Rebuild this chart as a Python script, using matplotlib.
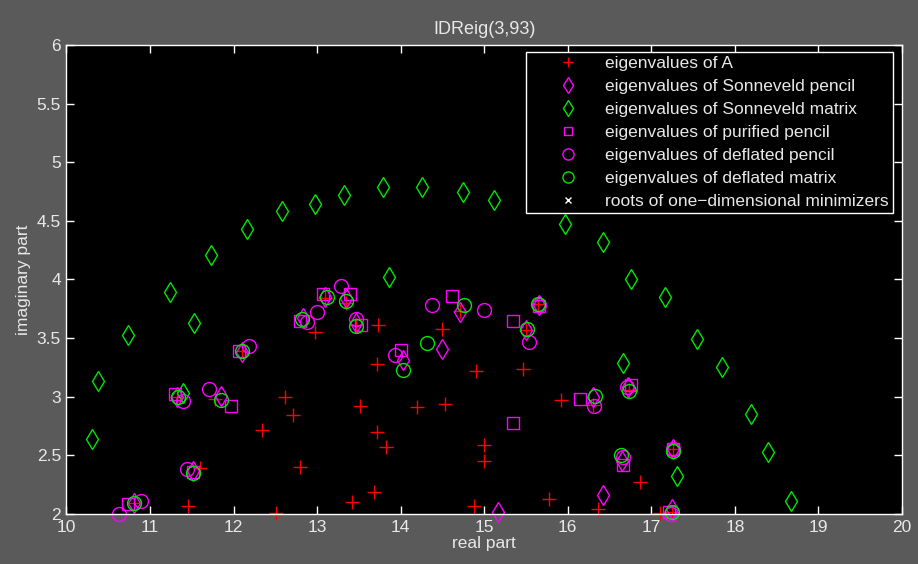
import matplotlib
matplotlib.use("Agg")
import matplotlib.pyplot as plt

plt.rcParams['font.family'] = ['Liberation Sans', 'DejaVu Sans']

# eigenvalues of A (red +)
a_re = [10.81, 11.32, 11.46, 11.60, 11.78, 12.10, 12.34, 12.51, 12.61, 12.71,
        12.79, 12.98, 13.10, 13.34, 13.42, 13.47, 13.51, 13.68, 13.72, 13.72,
        13.73, 13.83, 14.20, 14.49, 14.53, 14.71, 14.88, 14.90, 15.00, 15.00,
        15.46, 15.50, 15.64, 15.77, 15.92, 16.30, 16.36, 16.73, 16.87, 17.10,
        17.25, 17.26]
a_im = [2.09, 3.00, 2.07, 2.39, 2.98, 3.39, 2.72, 2.01, 3.00, 2.84,
        2.40, 3.55, 3.84, 3.80, 2.10, 3.61, 2.92, 2.19, 2.70, 3.28,
        3.61, 2.57, 2.91, 3.58, 2.94, 3.73, 2.07, 3.22, 2.59, 2.45,
        3.24, 3.57, 3.79, 2.13, 2.97, 2.93, 2.04, 3.06, 2.27, 2.01,
        2.02, 2.55]

# eigenvalues of Sonneveld pencil (magenta diamond)
sp_re = [10.81, 11.32, 11.52, 11.85, 12.10, 12.83, 13.10, 13.35, 13.47, 14.03,
         14.50, 14.71, 15.16, 15.50, 15.65, 16.30, 16.42, 16.65, 16.72, 17.26, 17.25]
sp_im = [2.09, 3.00, 2.37, 3.01, 3.38, 3.67, 3.85, 3.84, 3.63, 3.31,
         3.41, 3.72, 2.02, 3.57, 3.78, 3.00, 2.16, 2.45, 3.08, 2.55, 2.04]

# eigenvalues of Sonneveld matrix (green diamond)
sm_re = [10.30, 10.38, 10.74, 11.24, 11.40, 11.53, 11.73, 12.16, 12.58, 12.98,
         13.32, 13.79, 13.86, 14.26, 14.75, 15.12, 15.97, 16.42, 16.66, 16.76,
         17.16, 17.31, 17.55, 17.85, 18.19, 18.39, 18.67]
sm_im = [2.64, 3.13, 3.53, 3.89, 3.03, 3.63, 4.21, 4.43, 4.58, 4.64,
         4.72, 4.79, 4.02, 4.79, 4.75, 4.68, 4.47, 4.32, 3.29, 4.00,
         3.85, 2.32, 3.49, 3.25, 2.85, 2.53, 2.11]

# eigenvalues of purified pencil (magenta square)
pp_re = [10.74, 11.30, 11.52, 11.97, 12.06, 12.80, 13.07, 13.39, 13.53, 14.00,
         14.62, 15.34, 15.35, 15.65, 16.15, 16.66, 16.76, 17.26, 17.21]
pp_im = [2.085, 3.02, 2.36, 2.92, 3.39, 3.65, 3.88, 3.88, 3.61, 3.40,
         3.86, 2.78, 3.65, 3.77, 2.98, 2.42, 3.10, 2.55, 2.02]

# eigenvalues of deflated pencil (magenta circle)
dp_re = [10.63, 10.89, 11.44, 11.39, 11.71, 12.18, 12.88, 13.00, 13.28, 13.47,
         13.93, 14.38, 15.00, 15.54, 15.65, 16.31, 16.71, 16.66, 17.26, 17.24]
dp_im = [2.00, 2.11, 2.38, 2.96, 3.07, 3.43, 3.64, 3.72, 3.94, 3.66,
         3.36, 3.78, 3.74, 3.47, 3.78, 2.92, 3.08, 2.49, 2.55, 2.00]

# eigenvalues of deflated matrix (green circle)
dm_re = [10.81, 11.33, 11.51, 11.85, 12.10, 12.82, 13.12, 13.34, 13.47, 14.03,
         14.31, 14.76, 15.51, 15.64, 16.33, 16.73, 16.64, 17.26, 17.25]
dm_im = [2.09, 3.00, 2.35, 2.97, 3.39, 3.66, 3.85, 3.82, 3.60, 3.23,
         3.46, 3.78, 3.58, 3.79, 3.01, 3.05, 2.50, 2.54, 2.02]

# roots of one-dimensional minimizers: none visible in range
rt_re = []
rt_im = []

labels = ["eigenvalues of A",
          "eigenvalues of Sonneveld pencil",
          "eigenvalues of Sonneveld matrix",
          "eigenvalues of purified pencil",
          "eigenvalues of deflated pencil",
          "eigenvalues of deflated matrix",
          "roots of one\u2212dimensional minimizers"]

red = "#ff0000"
mag = "#ff00ff"
grn = "#00e600"
fg = "#e8e8e8"
fs = 12.5

fig = plt.figure(figsize=(9.18, 5.64), dpi=100, facecolor="#5a5a5a")
ax = fig.add_axes([0.0724, 0.0887, 0.9102, 0.8316], facecolor="black")

kw = dict(linestyle="none", markerfacecolor="none", markeredgewidth=1.0, clip_on=False)
ax.plot(a_re, a_im, marker="+", color=red, markersize=9.5, label=labels[0], **kw)
ax.plot(sp_re, sp_im, marker="d", color=mag, markersize=10.5, label=labels[1], **kw)
ax.plot(sm_re, sm_im, marker="d", color=grn, markersize=10.5, label=labels[2], **kw)
ax.plot(pp_re, pp_im, marker="s", color=mag, markersize=8, label=labels[3], **kw)
ax.plot(dp_re, dp_im, marker="o", color=mag, markersize=10, label=labels[4], **kw)
ax.plot(dm_re, dm_im, marker="o", color=grn, markersize=10, label=labels[5], **kw)
ax.plot(rt_re, rt_im, marker="x", color="white", markersize=6, label=labels[6], **kw)

ax.set_xlim(10, 20)
ax.set_ylim(2, 6)
ax.set_xticks(range(10, 21))
ax.set_yticks([2, 2.5, 3, 3.5, 4, 4.5, 5, 5.5, 6])
ax.set_yticklabels(["2", "2.5", "3", "3.5", "4", "4.5", "5", "5.5", "6"])
ax.tick_params(direction="in", length=6, width=1, colors="white",
               top=True, right=True, labelsize=fs, labelcolor=fg, pad=4)
for s in ax.spines.values():
    s.set_color("white")
    s.set_linewidth(1)

ax.set_title("IDReig(3,93)", color=fg, fontsize=13, pad=8)
ax.set_xlabel("real part", color=fg, fontsize=fs, labelpad=1)
ax.set_ylabel("imaginary part", color=fg, fontsize=fs, labelpad=4)

leg = ax.legend(loc="upper right", bbox_to_anchor=(0.989, 0.985), borderaxespad=0,
                fontsize=fs, facecolor="black", edgecolor="white", framealpha=1,
                fancybox=False, handlelength=4.3, handletextpad=0.0, borderpad=0.25,
                labelspacing=0.445, numpoints=1, markerscale=0.8)
leg.get_frame().set_linewidth(1)
for t in leg.get_texts():
    t.set_color(fg)

fig.savefig("out.png", dpi=100, facecolor=fig.get_facecolor())
